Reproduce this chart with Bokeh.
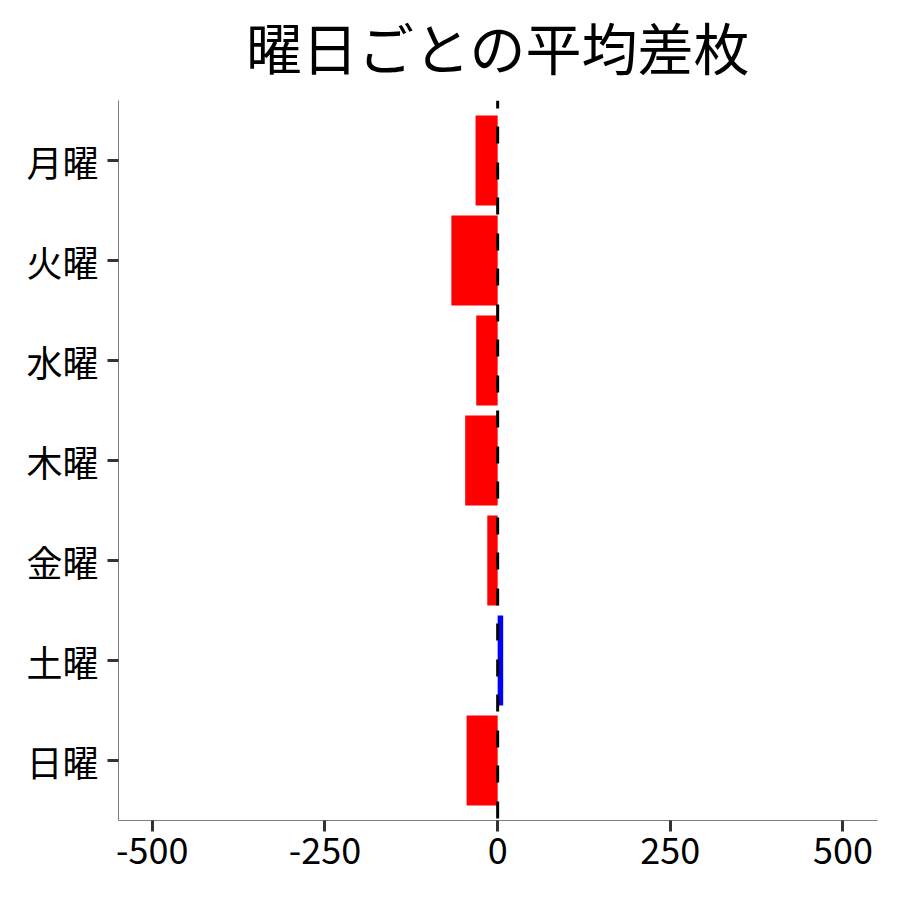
from bokeh.plotting import figure
from bokeh.models import Span, FactorRange, Range1d, FixedTicker
from bokeh.embed import file_html
from bokeh.resources import INLINE

title_text = "曜日ごとの平均差枚"
days = ["月曜", "火曜", "水曜", "木曜", "金曜", "土曜", "日曜"]
avg_diff = [-32, -67, -31, -47, -15, 8, -45]
x_ticks = [-500, -250, 0, 250, 500]
x_tick_labels = ["-500", "-250", "0", "250", "500"]

colors = ["#FF0000" if v < 0 else "#0000FF" for v in avg_diff]
FONT = "Noto Sans CJK JP"

p = figure(
    width=884, height=892,
    y_range=FactorRange(factors=list(reversed(days)), range_padding=0.1, range_padding_units="absolute"),
    x_range=Range1d(-549, 550),
    output_backend="svg", toolbar_location=None,
    min_border_left=118, min_border_right=7, min_border_top=100, min_border_bottom=72,
)

p.hbar(y=days, left=0, right=avg_diff, height=0.9, fill_color=colors, line_color=None)

zero = Span(location=0, dimension="height", line_color="black", line_width=3,
            line_dash="17 18 17 19", line_dash_offset=9)
p.add_layout(zero)

p.title.text = title_text
p.title.text_font = FONT
p.title.text_font_size = "56px"
p.title.text_font_style = "normal"
p.title.align = "center"
p.title.text_color = "black"
p.title.standoff = 0
try:
    p.title.padding = dict(left=0, right=0, top=0, bottom=15)
except Exception:
    p.title.standoff = 2

p.outline_line_color = None
p.xgrid.visible = False
p.ygrid.visible = False

p.xaxis.ticker = FixedTicker(ticks=x_ticks)
p.xaxis.major_label_overrides = dict(zip(x_ticks, x_tick_labels))
for ax in (p.xaxis, p.yaxis):
    ax.axis_line_color = "#7f7f7f"
    ax.axis_line_width = 1
    ax.major_tick_line_color = "#333333"
    ax.major_tick_line_width = 3
    ax.major_tick_out = 11
    ax.major_tick_in = 0
    ax.minor_tick_line_color = None
    ax.major_label_text_font = FONT
    ax.major_label_text_font_size = "36px"
    ax.major_label_text_color = "black"

p.yaxis.major_label_standoff = 9
p.xaxis.major_label_standoff = 6

open("out.html", "w").write(file_html(p, INLINE))
